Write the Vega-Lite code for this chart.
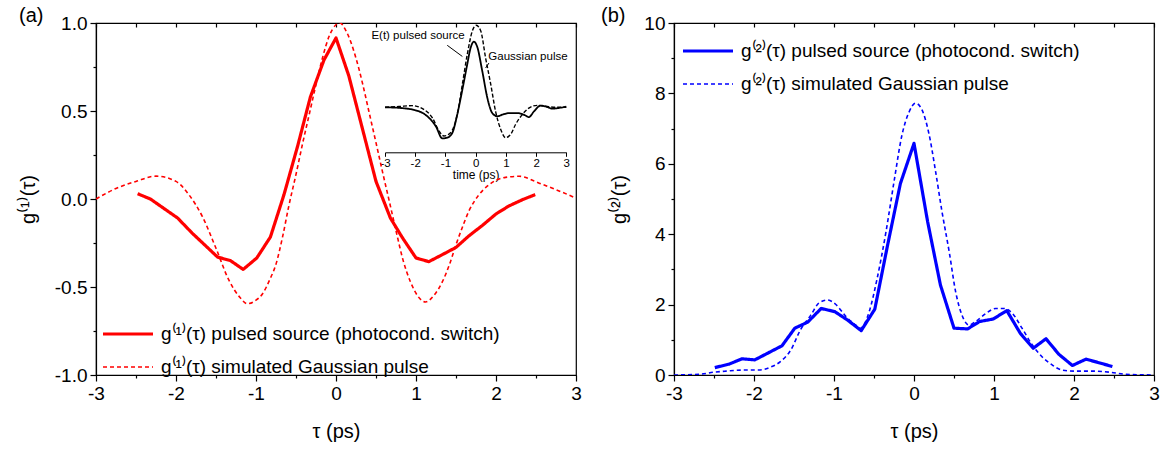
{
  "$schema": "https://vega.github.io/schema/vega-lite/v6.json",
  "padding": {"left": 17, "top": 5, "right": 0, "bottom": 0},
  "autosize": {"type": "pad"},
  "spacing": 18,
  "config": {
    "font": "Liberation Sans",
    "view": {"stroke": "#000", "strokeWidth": 1.2},
    "axis": {"domainColor": "#000", "tickColor": "#000", "labelColor": "#000", "titleColor": "#000", "labelFont": "Liberation Sans", "titleFont": "Liberation Sans", "labelFontSize": 19, "titleFontSize": 20, "titleFontWeight": "normal", "grid": false, "domainWidth": 1.2, "tickWidth": 1.2, "labelFlush": false, "labelOverlap": false},
    "legend": {"orient": "none", "labelFontSize": 19, "labelFont": "Liberation Sans", "labelColor": "#000", "labelLimit": 600, "symbolType": "M-1,0L4,0", "symbolSize": 400, "rowPadding": 12, "padding": 0, "labelOffset": 36},
    "title": {"fontSize": 20, "fontWeight": "normal", "font": "Liberation Sans", "anchor": "start", "frame": "group", "color": "#000"}
  },
  "datasets": {
    "left": [
      {"t": -2.48, "g": 0.03, "s": "pulsed"}, {"t": -2.32, "g": 0.0, "s": "pulsed"}, {"t": -1.98, "g": -0.108, "s": "pulsed"}, {"t": -1.8, "g": -0.193, "s": "pulsed"}, {"t": -1.48, "g": -0.33, "s": "pulsed"}, {"t": -1.32, "g": -0.35, "s": "pulsed"}, {"t": -1.16, "g": -0.4, "s": "pulsed"}, {"t": -0.99, "g": -0.335, "s": "pulsed"}, {"t": -0.82, "g": -0.216, "s": "pulsed"}, {"t": -0.65, "g": 0.025, "s": "pulsed"}, {"t": -0.48, "g": 0.3, "s": "pulsed"}, {"t": -0.32, "g": 0.58, "s": "pulsed"}, {"t": -0.15, "g": 0.79, "s": "pulsed"}, {"t": 0.0, "g": 0.915, "s": "pulsed"}, {"t": 0.16, "g": 0.7, "s": "pulsed"}, {"t": 0.33, "g": 0.4, "s": "pulsed"}, {"t": 0.5, "g": 0.1, "s": "pulsed"}, {"t": 0.68, "g": -0.108, "s": "pulsed"}, {"t": 0.83, "g": -0.22, "s": "pulsed"}, {"t": 1.0, "g": -0.335, "s": "pulsed"}, {"t": 1.16, "g": -0.356, "s": "pulsed"}, {"t": 1.33, "g": -0.316, "s": "pulsed"}, {"t": 1.5, "g": -0.275, "s": "pulsed"}, {"t": 1.66, "g": -0.21, "s": "pulsed"}, {"t": 1.83, "g": -0.15, "s": "pulsed"}, {"t": 2.0, "g": -0.085, "s": "pulsed"}, {"t": 2.16, "g": -0.04, "s": "pulsed"}, {"t": 2.33, "g": -0.004, "s": "pulsed"}, {"t": 2.49, "g": 0.025, "s": "pulsed"},
      {"t": -3.0, "g": 0.0, "s": "simulated"}, {"t": -2.75, "g": 0.06, "s": "simulated"}, {"t": -2.5, "g": 0.1, "s": "simulated"}, {"t": -2.25, "g": 0.13, "s": "simulated"}, {"t": -2.0, "g": 0.1, "s": "simulated"}, {"t": -1.84, "g": 0.025, "s": "simulated"}, {"t": -1.67, "g": -0.1, "s": "simulated"}, {"t": -1.5, "g": -0.28, "s": "simulated"}, {"t": -1.34, "g": -0.46, "s": "simulated"}, {"t": -1.2, "g": -0.56, "s": "simulated"}, {"t": -1.11, "g": -0.595, "s": "simulated"}, {"t": -1.0, "g": -0.575, "s": "simulated"}, {"t": -0.92, "g": -0.54, "s": "simulated"}, {"t": -0.83, "g": -0.46, "s": "simulated"}, {"t": -0.75, "g": -0.37, "s": "simulated"}, {"t": -0.67, "g": -0.22, "s": "simulated"}, {"t": -0.59, "g": -0.04, "s": "simulated"}, {"t": -0.5, "g": 0.14, "s": "simulated"}, {"t": -0.42, "g": 0.31, "s": "simulated"}, {"t": -0.33, "g": 0.49, "s": "simulated"}, {"t": -0.25, "g": 0.65, "s": "simulated"}, {"t": -0.17, "g": 0.8, "s": "simulated"}, {"t": -0.09, "g": 0.92, "s": "simulated"}, {"t": 0.0, "g": 0.99, "s": "simulated"}, {"t": 0.05, "g": 1.0, "s": "simulated"}, {"t": 0.12, "g": 0.96, "s": "simulated"}, {"t": 0.25, "g": 0.8, "s": "simulated"}, {"t": 0.33, "g": 0.66, "s": "simulated"}, {"t": 0.41, "g": 0.5, "s": "simulated"}, {"t": 0.5, "g": 0.32, "s": "simulated"}, {"t": 0.58, "g": 0.157, "s": "simulated"}, {"t": 0.67, "g": -0.02, "s": "simulated"}, {"t": 0.75, "g": -0.18, "s": "simulated"}, {"t": 0.84, "g": -0.35, "s": "simulated"}, {"t": 0.93, "g": -0.47, "s": "simulated"}, {"t": 1.02, "g": -0.55, "s": "simulated"}, {"t": 1.12, "g": -0.585, "s": "simulated"}, {"t": 1.22, "g": -0.55, "s": "simulated"}, {"t": 1.33, "g": -0.47, "s": "simulated"}, {"t": 1.42, "g": -0.37, "s": "simulated"}, {"t": 1.5, "g": -0.26, "s": "simulated"}, {"t": 1.58, "g": -0.16, "s": "simulated"}, {"t": 1.66, "g": -0.07, "s": "simulated"}, {"t": 1.78, "g": 0.02, "s": "simulated"}, {"t": 1.91, "g": 0.08, "s": "simulated"}, {"t": 2.12, "g": 0.123, "s": "simulated"}, {"t": 2.29, "g": 0.129, "s": "simulated"}, {"t": 2.54, "g": 0.09, "s": "simulated"}, {"t": 2.75, "g": 0.053, "s": "simulated"}, {"t": 3.0, "g": 0.005, "s": "simulated"}
    ],
    "right": [
      {"t": -2.49, "g": 0.21, "s": "pulsed"}, {"t": -2.31, "g": 0.31, "s": "pulsed"}, {"t": -2.15, "g": 0.46, "s": "pulsed"}, {"t": -1.99, "g": 0.43, "s": "pulsed"}, {"t": -1.82, "g": 0.63, "s": "pulsed"}, {"t": -1.65, "g": 0.83, "s": "pulsed"}, {"t": -1.49, "g": 1.33, "s": "pulsed"}, {"t": -1.33, "g": 1.5, "s": "pulsed"}, {"t": -1.16, "g": 1.89, "s": "pulsed"}, {"t": -0.99, "g": 1.8, "s": "pulsed"}, {"t": -0.83, "g": 1.56, "s": "pulsed"}, {"t": -0.66, "g": 1.26, "s": "pulsed"}, {"t": -0.49, "g": 1.87, "s": "pulsed"}, {"t": -0.33, "g": 3.69, "s": "pulsed"}, {"t": -0.17, "g": 5.44, "s": "pulsed"}, {"t": 0.0, "g": 6.58, "s": "pulsed"}, {"t": 0.17, "g": 4.36, "s": "pulsed"}, {"t": 0.33, "g": 2.56, "s": "pulsed"}, {"t": 0.5, "g": 1.33, "s": "pulsed"}, {"t": 0.67, "g": 1.31, "s": "pulsed"}, {"t": 0.82, "g": 1.52, "s": "pulsed"}, {"t": 0.99, "g": 1.59, "s": "pulsed"}, {"t": 1.16, "g": 1.83, "s": "pulsed"}, {"t": 1.33, "g": 1.18, "s": "pulsed"}, {"t": 1.49, "g": 0.76, "s": "pulsed"}, {"t": 1.65, "g": 1.03, "s": "pulsed"}, {"t": 1.81, "g": 0.59, "s": "pulsed"}, {"t": 1.98, "g": 0.27, "s": "pulsed"}, {"t": 2.15, "g": 0.45, "s": "pulsed"}, {"t": 2.31, "g": 0.35, "s": "pulsed"}, {"t": 2.48, "g": 0.24, "s": "pulsed"},
      {"t": -3.0, "g": 0.0, "s": "simulated"}, {"t": -2.69, "g": 0.02, "s": "simulated"}, {"t": -2.5, "g": 0.08, "s": "simulated"}, {"t": -2.35, "g": 0.11, "s": "simulated"}, {"t": -2.15, "g": 0.14, "s": "simulated"}, {"t": -1.94, "g": 0.14, "s": "simulated"}, {"t": -1.81, "g": 0.21, "s": "simulated"}, {"t": -1.67, "g": 0.38, "s": "simulated"}, {"t": -1.54, "g": 0.71, "s": "simulated"}, {"t": -1.42, "g": 1.28, "s": "simulated"}, {"t": -1.29, "g": 1.7, "s": "simulated"}, {"t": -1.19, "g": 2.04, "s": "simulated"}, {"t": -1.08, "g": 2.13, "s": "simulated"}, {"t": -0.98, "g": 2.01, "s": "simulated"}, {"t": -0.85, "g": 1.66, "s": "simulated"}, {"t": -0.73, "g": 1.42, "s": "simulated"}, {"t": -0.67, "g": 1.33, "s": "simulated"}, {"t": -0.56, "g": 1.8, "s": "simulated"}, {"t": -0.46, "g": 2.75, "s": "simulated"}, {"t": -0.35, "g": 4.07, "s": "simulated"}, {"t": -0.25, "g": 5.49, "s": "simulated"}, {"t": -0.15, "g": 6.82, "s": "simulated"}, {"t": -0.06, "g": 7.48, "s": "simulated"}, {"t": 0.02, "g": 7.72, "s": "simulated"}, {"t": 0.1, "g": 7.53, "s": "simulated"}, {"t": 0.19, "g": 6.82, "s": "simulated"}, {"t": 0.27, "g": 5.78, "s": "simulated"}, {"t": 0.35, "g": 4.64, "s": "simulated"}, {"t": 0.44, "g": 3.5, "s": "simulated"}, {"t": 0.52, "g": 2.37, "s": "simulated"}, {"t": 0.6, "g": 1.7, "s": "simulated"}, {"t": 0.69, "g": 1.42, "s": "simulated"}, {"t": 0.77, "g": 1.52, "s": "simulated"}, {"t": 0.9, "g": 1.75, "s": "simulated"}, {"t": 1.02, "g": 1.89, "s": "simulated"}, {"t": 1.13, "g": 1.89, "s": "simulated"}, {"t": 1.23, "g": 1.75, "s": "simulated"}, {"t": 1.35, "g": 1.33, "s": "simulated"}, {"t": 1.48, "g": 0.85, "s": "simulated"}, {"t": 1.6, "g": 0.52, "s": "simulated"}, {"t": 1.73, "g": 0.28, "s": "simulated"}, {"t": 1.85, "g": 0.14, "s": "simulated"}, {"t": 2.02, "g": 0.11, "s": "simulated"}, {"t": 2.23, "g": 0.11, "s": "simulated"}, {"t": 2.44, "g": 0.08, "s": "simulated"}, {"t": 2.65, "g": 0.02, "s": "simulated"}, {"t": 2.98, "g": 0.0, "s": "simulated"}
    ],
    "inset": [
      {"t": -3.0, "v": 0.0, "s": "E"}, {"t": -2.43, "v": -0.01, "s": "E"}, {"t": -1.87, "v": -0.05, "s": "E"}, {"t": -1.54, "v": -0.13, "s": "E"}, {"t": -1.32, "v": -0.23, "s": "E"}, {"t": -1.1, "v": -0.38, "s": "E"}, {"t": -0.94, "v": -0.37, "s": "E"}, {"t": -0.77, "v": -0.31, "s": "E"}, {"t": -0.61, "v": -0.09, "s": "E"}, {"t": -0.44, "v": 0.215, "s": "E"}, {"t": -0.28, "v": 0.52, "s": "E"}, {"t": -0.17, "v": 0.72, "s": "E"}, {"t": -0.06, "v": 0.8, "s": "E"}, {"t": 0.05, "v": 0.74, "s": "E"}, {"t": 0.22, "v": 0.44, "s": "E"}, {"t": 0.39, "v": 0.11, "s": "E"}, {"t": 0.55, "v": -0.07, "s": "E"}, {"t": 0.72, "v": -0.11, "s": "E"}, {"t": 0.88, "v": -0.09, "s": "E"}, {"t": 1.1, "v": -0.07, "s": "E"}, {"t": 1.38, "v": -0.07, "s": "E"}, {"t": 1.65, "v": -0.1, "s": "E"}, {"t": 1.76, "v": -0.12, "s": "E"}, {"t": 1.93, "v": -0.05, "s": "E"}, {"t": 2.15, "v": 0.02, "s": "E"}, {"t": 2.32, "v": 0.01, "s": "E"}, {"t": 2.54, "v": -0.016, "s": "E"}, {"t": 2.76, "v": -0.008, "s": "E"}, {"t": 3.0, "v": 0.008, "s": "E"},
      {"t": -3.0, "v": 0.0, "s": "G"}, {"t": -2.54, "v": 0.01, "s": "G"}, {"t": -2.1, "v": 0.02, "s": "G"}, {"t": -1.76, "v": -0.016, "s": "G"}, {"t": -1.43, "v": -0.13, "s": "G"}, {"t": -1.21, "v": -0.29, "s": "G"}, {"t": -1.05, "v": -0.35, "s": "G"}, {"t": -0.83, "v": -0.31, "s": "G"}, {"t": -0.61, "v": -0.09, "s": "G"}, {"t": -0.44, "v": 0.28, "s": "G"}, {"t": -0.28, "v": 0.64, "s": "G"}, {"t": -0.11, "v": 0.93, "s": "G"}, {"t": 0.02, "v": 1.0, "s": "G"}, {"t": 0.17, "v": 0.93, "s": "G"}, {"t": 0.33, "v": 0.6, "s": "G"}, {"t": 0.5, "v": 0.28, "s": "G"}, {"t": 0.66, "v": -0.05, "s": "G"}, {"t": 0.83, "v": -0.27, "s": "G"}, {"t": 0.99, "v": -0.37, "s": "G"}, {"t": 1.16, "v": -0.33, "s": "G"}, {"t": 1.32, "v": -0.21, "s": "G"}, {"t": 1.54, "v": -0.09, "s": "G"}, {"t": 1.76, "v": -0.01, "s": "G"}, {"t": 2.04, "v": 0.024, "s": "G"}, {"t": 2.32, "v": 0.012, "s": "G"}, {"t": 2.65, "v": 0.0, "s": "G"}, {"t": 3.0, "v": 0.0, "s": "G"}
    ],
    "insetText": [
      {"t": -3.45, "v": 0.87, "label": "E(t) pulsed source"},
      {"t": 0.42, "v": 0.61, "label": "Gaussian pulse"}
    ],
    "insetArrow": [
      {"t": -0.94, "v": 0.756, "t2": -0.44, "v2": 0.62},
      {"t": 0.44, "v": 0.54, "t2": 0.33, "v2": 0.48}
    ]
  },
  "hconcat": [
    {
      "width": 480,
      "height": 352,
      "title": {"text": "(a)", "offset": -12, "dx": -77},
      "layer": [
        {
          "data": {"name": "left"},
          "encoding": {
            "x": {"field": "t", "type": "quantitative", "scale": {"domain": [-3, 3], "nice": false, "zero": false},
              "axis": {"orient": "bottom", "values": [-3, -2.5, -2, -1.5, -1, -0.5, 0, 0.5, 1, 1.5, 2, 2.5, 3], "format": ".0f", "labelExpr": "datum.value % 1 == 0 ? replace(datum.label, '−', '-') : ''", "tickSize": {"condition": {"test": "datum.value % 1 != 0", "value": 3}, "value": 6}, "title": "τ (ps)", "labelPadding": 3, "titlePadding": 18}},
            "y": {"field": "g", "type": "quantitative", "scale": {"domain": [-1, 1], "nice": false, "zero": false},
              "axis": {"orient": "left", "values": [-1, -0.75, -0.5, -0.25, 0, 0.25, 0.5, 0.75, 1], "format": ".1f", "labelExpr": "(datum.value * 2) % 1 == 0 ? replace(datum.label, '−', '-') : ''", "tickSize": {"condition": {"test": "(datum.value * 2) % 1 != 0", "value": 3}, "value": 6}, "title": "g⁽¹⁾(τ)", "labelPadding": 3, "titlePadding": 16}},
            "color": {"field": "s", "type": "nominal", "scale": {"domain": ["pulsed", "simulated"], "range": ["#ff0000", "#ff0000"]},
              "legend": {"title": null, "legendX": 5, "legendY": 299, "labelExpr": "datum.value == 'pulsed' ? 'g⁽¹⁾(τ) pulsed source (photocond. switch)' : 'g⁽¹⁾(τ) simulated Gaussian pulse'"}},
            "strokeDash": {"field": "s", "type": "nominal", "scale": {"domain": ["pulsed", "simulated"], "range": [[1, 0], [4, 3]]},
              "legend": {"title": null, "legendX": 5, "legendY": 299, "labelExpr": "datum.value == 'pulsed' ? 'g⁽¹⁾(τ) pulsed source (photocond. switch)' : 'g⁽¹⁾(τ) simulated Gaussian pulse'"}},
            "strokeWidth": {"field": "s", "type": "ordinal", "scale": {"domain": ["pulsed", "simulated"], "range": [3.2, 1.6]},
              "legend": {"title": null, "legendX": 5, "legendY": 299, "labelExpr": "datum.value == 'pulsed' ? 'g⁽¹⁾(τ) pulsed source (photocond. switch)' : 'g⁽¹⁾(τ) simulated Gaussian pulse'"}}
          },
          "layer": [
            {"transform": [{"filter": "datum.s == 'simulated'"}], "mark": {"type": "line", "interpolate": "monotone", "clip": true}},
            {"transform": [{"filter": "datum.s == 'pulsed'"}], "mark": {"type": "line", "interpolate": "linear", "clip": true, "strokeJoin": "round"}}
          ]
        },
        {
          "data": {"name": "left"},
          "mark": {"type": "line", "opacity": 0},
          "encoding": {
            "x": {"field": "t", "type": "quantitative", "scale": {"domain": [-3, 3], "nice": false, "zero": false},
              "axis": {"orient": "top", "values": [-3, -2.5, -2, -1.5, -1, -0.5, 0, 0.5, 1, 1.5, 2, 2.5, 3], "labels": false, "tickSize": -4, "title": null}},
            "y": {"field": "g", "type": "quantitative", "scale": {"domain": [-1, 1], "nice": false, "zero": false}, "axis": null}
          }
        },
        {
          "layer": [
            {
              "data": {"name": "inset"},
              "mark": {"type": "line", "interpolate": "monotone", "color": "#000"},
              "encoding": {
                "x": {"field": "t", "type": "quantitative", "scale": {"domain": [-3, 3], "range": [289, 470.3], "nice": false, "zero": false},
                  "axis": {"orient": "bottom", "offset": -222.7, "values": [-3, -2.5, -2, -1.5, -1, -0.5, 0, 0.5, 1, 1.5, 2, 2.5, 3], "format": ".0f", "labelExpr": "datum.value % 1 == 0 ? replace(datum.label, '−', '-') : ''", "tickSize": {"condition": {"test": "datum.value % 1 != 0", "value": 2}, "value": 4}, "tickWidth": 1, "domainWidth": 1, "labelFontSize": 11.5, "labelPadding": 1, "title": "time (ps)", "titleFontSize": 12, "titlePadding": 1}},
                "y": {"field": "v", "type": "quantitative", "scale": {"domain": [-0.5, 1.0], "range": [125.3, 2.3], "nice": false, "zero": false}, "axis": null},
                "strokeDash": {"field": "s", "type": "nominal", "scale": {"domain": ["E", "G"], "range": [[1, 0], [4, 2]]}, "legend": null},
                "strokeWidth": {"field": "s", "type": "ordinal", "scale": {"domain": ["E", "G"], "range": [1.8, 1.4]}, "legend": null}
              }
            },
            {
              "data": {"name": "insetText"},
              "mark": {"type": "text", "align": "left", "baseline": "middle", "fontSize": 11.5, "font": "Liberation Sans", "color": "#000"},
              "encoding": {
                "x": {"field": "t", "type": "quantitative"},
                "y": {"field": "v", "type": "quantitative"},
                "text": {"field": "label"}
              }
            },
            {
              "data": {"name": "insetArrow"},
              "mark": {"type": "rule", "color": "#000", "strokeWidth": 1},
              "encoding": {
                "x": {"field": "t", "type": "quantitative"},
                "y": {"field": "v", "type": "quantitative"},
                "x2": {"field": "t2"},
                "y2": {"field": "v2"}
              }
            }
          ]
        }
      ],
      "resolve": {
        "scale": {"x": "independent", "y": "independent", "color": "independent", "strokeDash": "independent", "strokeWidth": "independent"},
        "axis": {"x": "independent", "y": "independent"}
      }
    },
    {
      "width": 480,
      "height": 352,
      "title": {"text": "(b)", "offset": -12, "dx": -73},
      "layer": [
        {
          "data": {"name": "right"},
          "encoding": {
            "x": {"field": "t", "type": "quantitative", "scale": {"domain": [-3, 3], "nice": false, "zero": false},
              "axis": {"orient": "bottom", "values": [-3, -2.5, -2, -1.5, -1, -0.5, 0, 0.5, 1, 1.5, 2, 2.5, 3], "format": ".0f", "labelExpr": "datum.value % 1 == 0 ? replace(datum.label, '−', '-') : ''", "tickSize": {"condition": {"test": "datum.value % 1 != 0", "value": 3}, "value": 6}, "title": "τ (ps)", "labelPadding": 3, "titlePadding": 18}},
            "y": {"field": "g", "type": "quantitative", "scale": {"domain": [0, 10], "nice": false},
              "axis": {"orient": "left", "values": [0, 1, 2, 3, 4, 5, 6, 7, 8, 9, 10], "format": "d", "labelExpr": "datum.value % 2 == 0 ? datum.label : ''", "tickSize": {"condition": {"test": "datum.value % 2 != 0", "value": 3}, "value": 6}, "title": "g⁽²⁾(τ)", "labelPadding": 3, "titlePadding": 14}},
            "color": {"field": "s", "type": "nominal", "scale": {"domain": ["pulsed", "simulated"], "range": ["#0000ff", "#0000ff"]},
              "legend": {"title": null, "legendX": 585, "legendY": 16, "labelExpr": "datum.value == 'pulsed' ? 'g⁽²⁾(τ) pulsed source (photocond. switch)' : 'g⁽²⁾(τ) simulated Gaussian pulse'"}},
            "strokeDash": {"field": "s", "type": "nominal", "scale": {"domain": ["pulsed", "simulated"], "range": [[1, 0], [4, 3]]},
              "legend": {"title": null, "legendX": 585, "legendY": 16, "labelExpr": "datum.value == 'pulsed' ? 'g⁽²⁾(τ) pulsed source (photocond. switch)' : 'g⁽²⁾(τ) simulated Gaussian pulse'"}},
            "strokeWidth": {"field": "s", "type": "ordinal", "scale": {"domain": ["pulsed", "simulated"], "range": [3.2, 1.6]},
              "legend": {"title": null, "legendX": 585, "legendY": 16, "labelExpr": "datum.value == 'pulsed' ? 'g⁽²⁾(τ) pulsed source (photocond. switch)' : 'g⁽²⁾(τ) simulated Gaussian pulse'"}}
          },
          "layer": [
            {"transform": [{"filter": "datum.s == 'simulated'"}], "mark": {"type": "line", "interpolate": "monotone", "clip": true}},
            {"transform": [{"filter": "datum.s == 'pulsed'"}], "mark": {"type": "line", "interpolate": "linear", "clip": true, "strokeJoin": "round"}}
          ]
        },
        {
          "data": {"name": "right"},
          "mark": {"type": "line", "opacity": 0},
          "encoding": {
            "x": {"field": "t", "type": "quantitative", "scale": {"domain": [-3, 3], "nice": false, "zero": false},
              "axis": {"orient": "top", "values": [-3, -2.5, -2, -1.5, -1, -0.5, 0, 0.5, 1, 1.5, 2, 2.5, 3], "labels": false, "tickSize": -4, "title": null}},
            "y": {"field": "g", "type": "quantitative", "scale": {"domain": [0, 10], "nice": false}, "axis": null}
          }
        }
      ],
      "resolve": {
        "scale": {"x": "independent", "y": "independent"},
        "axis": {"x": "independent", "y": "independent"}
      }
    }
  ]
}
